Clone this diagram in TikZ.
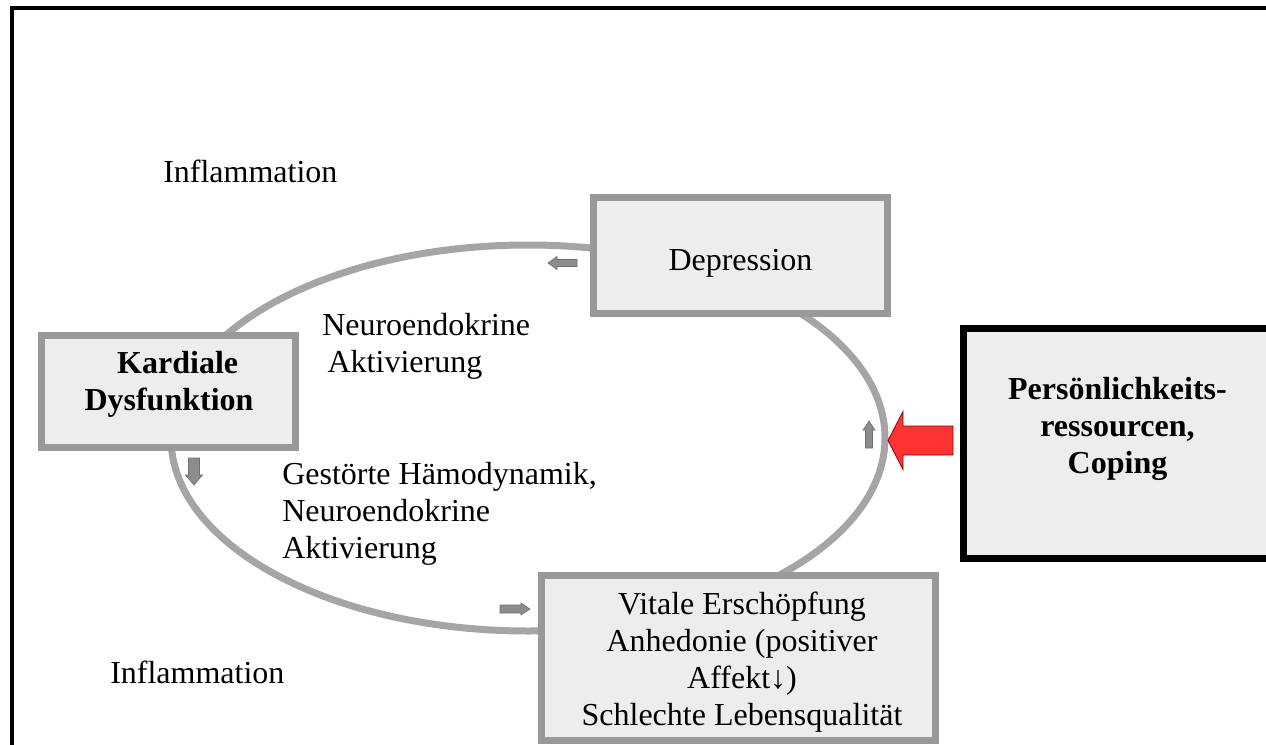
\documentclass[tikz,border=0pt]{standalone}
\usepackage{fontspec}
\setmainfont{Liberation Serif}
\definecolor{boxfill}{HTML}{EDEDED}
\definecolor{boxline}{HTML}{999999}
\definecolor{ringline}{HTML}{A5A5A5}
\definecolor{smallarr}{HTML}{8C8C8C}
\definecolor{redarr}{HTML}{FF3333}
\tikzset{
  graybox/.style={draw=boxline, fill=boxfill, line width=5.25pt, inner sep=0pt},
  blackbox/.style={draw=black, fill=boxfill, line width=5.25pt, inner sep=0pt},
  lbl/.style={font=\fontsize{24}{27.75}\selectfont, inner sep=0pt},
  smallarrow/.style={fill=smallarr, draw=smallarr!80!black, line width=0.5pt},
  bigarrow/.style={fill=redarr, draw=red!55!black, line width=0.6pt},
}
% x, y (tail), angle, length, head length, head width, shaft width, style
\newcommand{\myblkarrow}[8]{%
  \begin{scope}[shift={(#1,#2)},rotate=#3]
    \draw[#8] (0,{-#7/2}) -- ({#4-#5},{-#7/2}) -- ({#4-#5},{-#6/2}) -- (#4,0)
      -- ({#4-#5},{#6/2}) -- ({#4-#5},{#7/2}) -- (0,{#7/2}) -- cycle;
  \end{scope}}
\begin{document}
\begin{tikzpicture}[x=0.75pt,y=-0.75pt]
  \useasboundingbox (0,0) rectangle (1266,745);
  % outer frame
  \draw[line width=3pt, line join=miter] (11.5,760) -- (11.5,8) -- (1280,8);
  % cycle ring
  \draw[ringline, line width=5.25pt] (528,438) ellipse [x radius=267.75pt, y radius=144.75pt];
  % boxes
  \node[graybox, minimum width=220.5pt, minimum height=87pt] (dep) at (740.5,255.5) {};
  \node[graybox, minimum width=190.5pt, minimum height=84pt] (kard) at (168.5,391.5) {};
  \node[graybox, minimum width=295.5pt, minimum height=123.75pt] (vital) at (738.5,658) {};
  \node[blackbox, minimum width=231.4pt, minimum height=172.5pt] (pers) at (1117.75,443.5) {};
  % small arrows on the ring
  \myblkarrow{577}{263}{180}{29}{9}{13}{7}{smallarrow}
  \myblkarrow{194}{458}{-90}{27}{10}{17}{11}{smallarrow}
  \myblkarrow{500}{609}{0}{30}{9}{12}{8}{smallarrow}
  \myblkarrow{869}{448}{90}{27}{9}{12}{7}{smallarrow}
  % red arrow
  \myblkarrow{953}{440.5}{180}{65}{15}{58}{29}{bigarrow}
  % texts (base anchor = baseline of the last line)
  \node[lbl, anchor=base] (tdep) at (740.5,271) {Depression};
  \node[lbl, anchor=base, align=center, font=\fontsize{24}{27.75}\selectfont\bfseries] (tkard) at (169,410)
    {\hspace*{13pt}Kardiale\\Dysfunktion};
  \node[lbl, anchor=base, align=center] (tvital) at (742,725)
    {Vitale Erschöpfung\\Anhedonie (positiver\\Affekt↓)\\Schlechte Lebensqualität};
  \node[lbl, anchor=base, align=center, font=\fontsize{24}{27.75}\selectfont\bfseries] (tpers) at (1117.5,473)
    {Persönlichkeits-\\ressourcen,\\Coping};
  \node[lbl, anchor=base west] (infltop) at (163,183) {Inflammation};
  \node[lbl, anchor=base west, align=left] (neurotop) at (322,372)
    {Neuroendokrine\\\hspace*{4pt}Aktivierung};
  \node[lbl, anchor=base west, align=left] (haemo) at (282,558)
    {Gestörte Hämodynamik,\\Neuroendokrine\\Aktivierung};
  \node[lbl, anchor=base west] (inflbot) at (110,683) {Inflammation};
\end{tikzpicture}
\end{document}
